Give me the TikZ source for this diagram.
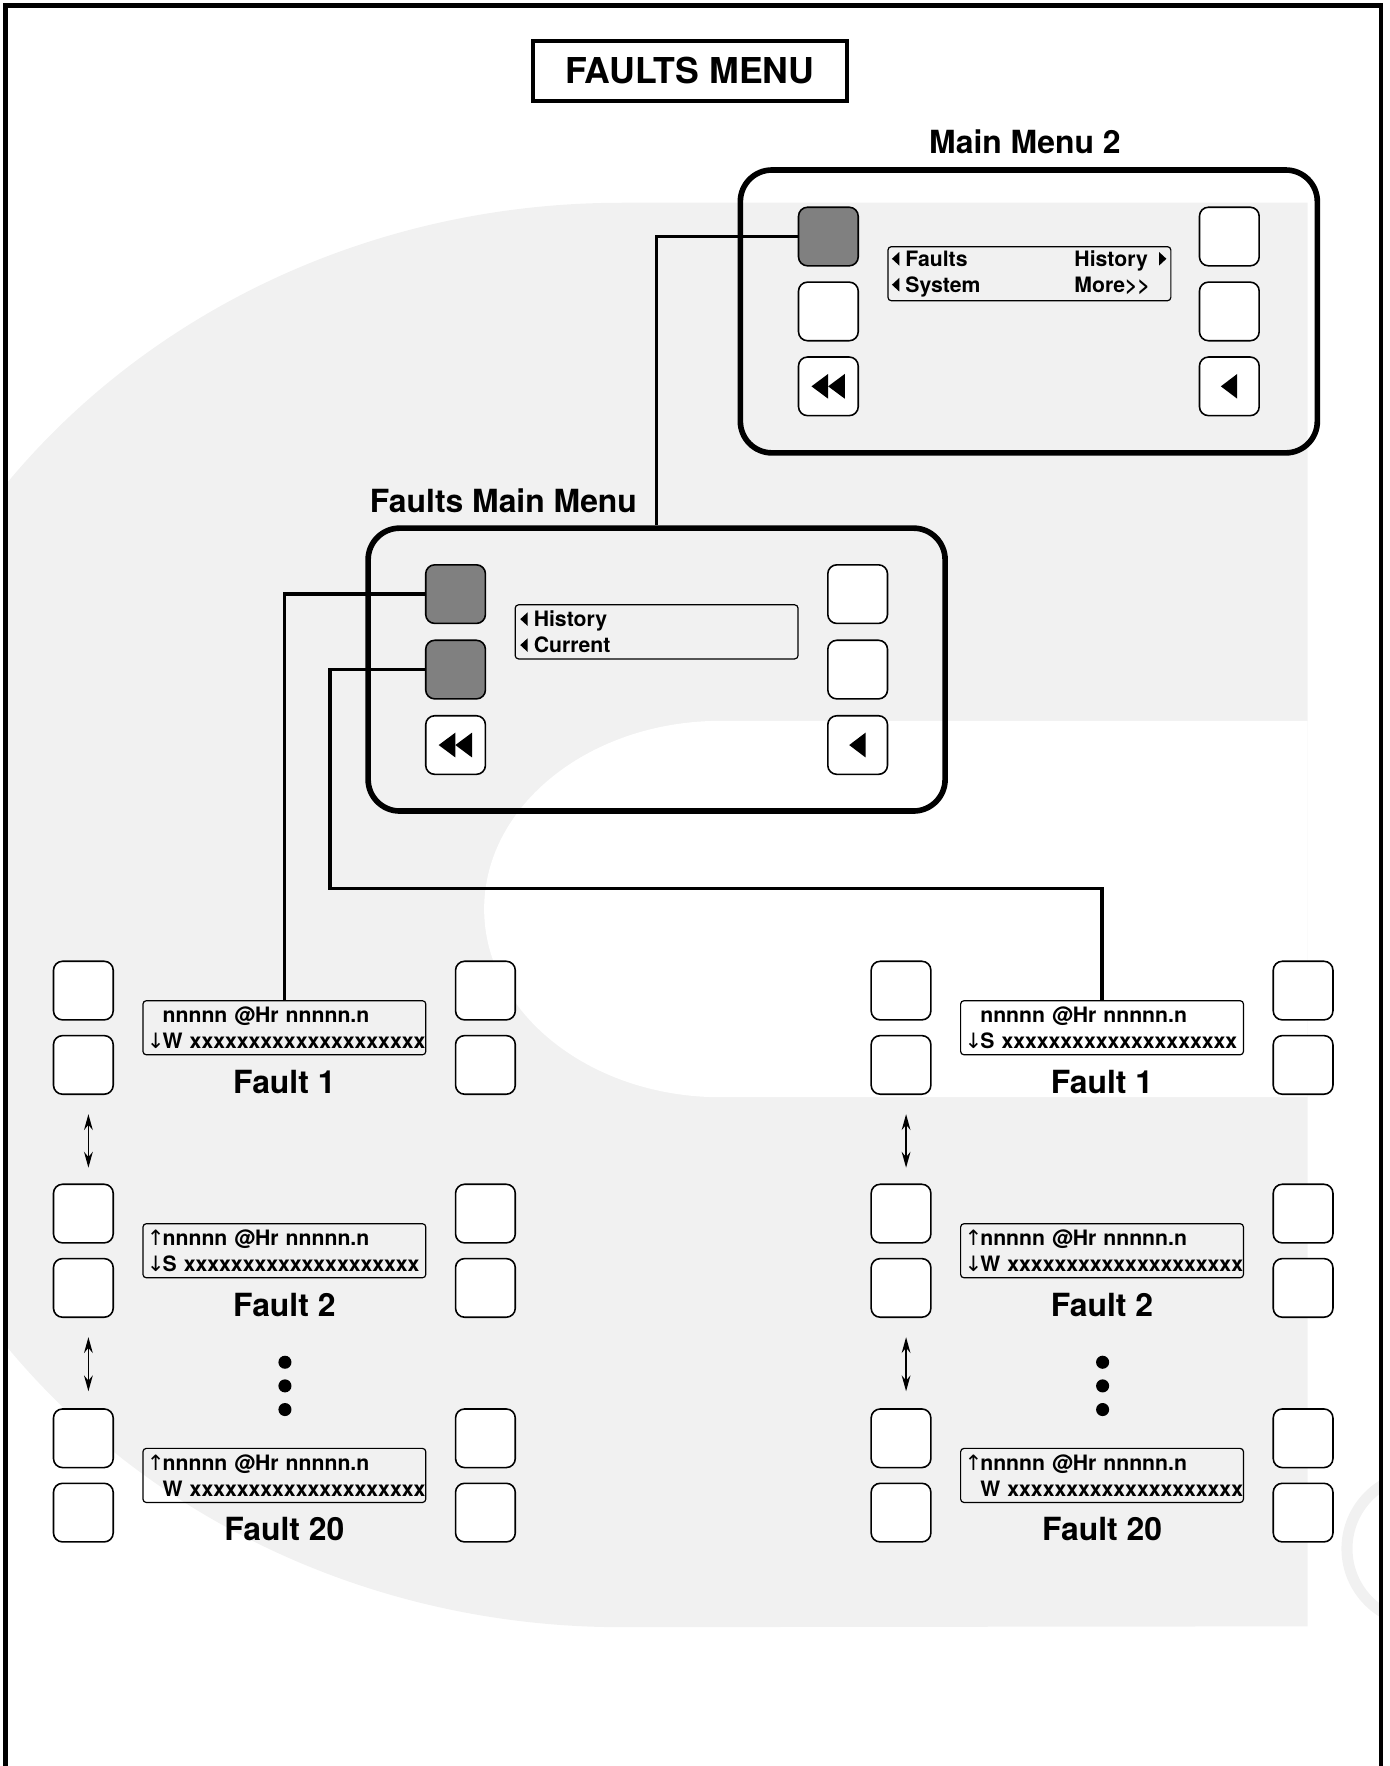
\documentclass[tikz,border=0pt]{standalone}
\usepackage{fontspec}
\setmainfont{TeX Gyre Heros}
\newfontfamily\arrowfont{DejaVu Sans}
\usetikzlibrary{arrows.meta}

\definecolor{wmgrey}{HTML}{F1F1F1}
\definecolor{keygrey}{HTML}{808080}

\newcommand\lcdfont{\fontsize{5.35}{6.55}\selectfont\bfseries}
\newcommand\arrslot[1]{\makebox[0.14cm][l]{\arrowfont\mdseries #1}}
\newcommand\xrow{xxxxxxxxxxxxxxxxxxxx}
\newcommand\ltri{\tikz[baseline={(0,-1.9pt)},sharp corners]\fill (0,0) -- (0.065cm,0.06cm) -- (0.065cm,-0.06cm) -- cycle;}
\newcommand\rtri{\tikz[baseline={(0,-1.9pt)},sharp corners]\fill (0.065cm,0) -- (0,0.06cm) -- (0,-0.06cm) -- cycle;}
% key symbols
\newcommand\rewindicon[1]{%
  \fill ([xshift=-0.15cm]#1.center) -- ++(0.148cm,0.11cm) -- ++(0,-0.22cm) -- cycle;
  \fill ([xshift=-0.002cm]#1.center) -- ++(0.148cm,0.11cm) -- ++(0,-0.22cm) -- cycle;}
\newcommand\backicon[1]{%
  \fill ([xshift=-0.075cm]#1.center) -- ++(0.145cm,0.11cm) -- ++(0,-0.22cm) -- cycle;}

\tikzset{
  key/.style={draw, rounded corners=0.08cm, fill=white, minimum width=0.53cm,
    minimum height=0.52cm, inner sep=0pt, line width=0.4pt},
  keyon/.style={key, fill=keygrey},
  lcd/.style={draw, rounded corners=0.03cm, line width=0.3pt, minimum width=2.51cm,
    minimum height=0.48cm, text width=2.44cm, inner xsep=0.035cm, inner ysep=0pt,
    align=left, font=\lcdfont},
  panel/.style={draw, rounded corners=0.28cm, line width=1.42pt,
    minimum width=5.12cm, minimum height=2.51cm},
  lbl/.style={font=\fontsize{8.05}{9.5}\selectfont\bfseries},
  wire/.style={line width=0.85pt},
  updown/.style={line width=0.45pt,
    {Stealth[length=4pt,width=2.2pt]}-{Stealth[length=4pt,width=2.2pt]}},
}

\begin{document}
\begin{tikzpicture}[x=0.01cm,y=-0.01cm]
  \useasboundingbox (0,0) rectangle (1234,1568);

  % watermark
  \begin{scope}
    \clip (5,5) rectangle (1226,1568);
    \fill[wmgrey] (1161,180) -- (552,180)
      arc[start angle=90, end angle=270, x radius=6.86cm, y radius=6.32cm]
      -- (1161,1444) -- cycle;
    \fill[white] (1161,640) -- (640,640)
      arc[start angle=90, end angle=270, x radius=2.1cm, y radius=1.67cm]
      -- (1161,974) -- cycle;
    \draw[wmgrey, line width=2.8pt] (1262,1375) circle[radius=0.66cm];
  \end{scope}

  \draw[line width=1.14pt] (5,1568) -- (5,5) -- (1226,5) -- (1226,1568);

  \node[draw, line width=1pt, minimum width=2.79cm, minimum height=0.54cm,
    font=\fontsize{9}{11}\selectfont\bfseries] (title) at (612.5,63) {FAULTS MENU};

  % Main Menu 2
  \node[lbl] (mm2lbl) at (910,126) {Main Menu 2};
  \node[panel] (mm2) at (913.5,276.5) {};
  \foreach \n/\dy/\ks in {1/-66.5/keyon, 2/0/key, 3/66.5/key} {
    \node[\ks] (mm2L\n) at ([shift={(-178,\dy)}]mm2.center) {};
    \node[key] (mm2R\n) at ([shift={(178,\dy)}]mm2.center) {};
  }
  \node[lcd] (mm2lcd) at ([shift={(0.5,-33.5)}]mm2.center)
    {\makebox[1.62cm][l]{\ltri\hspace{0.055cm}Faults}History\hspace{0.1cm}\rtri\\
     \makebox[1.62cm][l]{\ltri\hspace{0.055cm}System}More>\kern0pt>};
  \rewindicon{mm2L3}
  \backicon{mm2R3}

  % Faults Main Menu
  \node[lbl] (fmmlbl) at (447,445) {Faults Main Menu};
  \node[panel] (fmm) at (583,594.5) {};
  \foreach \n/\dy/\ks in {1/-67/keyon, 2/0/keyon, 3/67/key} {
    \node[\ks] (fmmL\n) at ([shift={(-178.5,\dy)}]fmm.center) {};
    \node[key] (fmmR\n) at ([shift={(178.5,\dy)}]fmm.center) {};
  }
  \node[lcd] (fmmlcd) at ([shift={(0,-33.5)}]fmm.center)
    {\hspace{0.01cm}\ltri\hspace{0.055cm}History\\ \hspace{0.01cm}\ltri\hspace{0.055cm}Current};
  \rewindicon{fmmL3}
  \backicon{fmmR3}

  % fault screens
  \node[lcd] (L1)  at (252.5,912.5) {\mbox{\arrslot{}nnnnn @Hr nnnnn.n}\\\mbox{\arrslot{↓}W \xrow}};
  \node[lcd] (L2)  at (252.5,1110.5) {\mbox{\arrslot{↑}nnnnn @Hr nnnnn.n}\\\mbox{\arrslot{↓}S \xrow}};
  \node[lcd] (L20) at (252.5,1310) {\mbox{\arrslot{↑}nnnnn @Hr nnnnn.n}\\\mbox{\arrslot{}W \xrow}};
  \node[lcd] (R1)  at (978.5,912.5) {\mbox{\arrslot{}nnnnn @Hr nnnnn.n}\\\mbox{\arrslot{↓}S \xrow}};
  \node[lcd] (R2)  at (978.5,1110.5) {\mbox{\arrslot{↑}nnnnn @Hr nnnnn.n}\\\mbox{\arrslot{↓}W \xrow}};
  \node[lcd] (R20) at (978.5,1310) {\mbox{\arrslot{↑}nnnnn @Hr nnnnn.n}\\\mbox{\arrslot{}W \xrow}};

  \foreach \s/\t in {L1/1, L2/2, L20/20, R1/1, R2/2, R20/20} {
    \node[key] (\s-la) at ([shift={(-178.5,-33)}]\s.center) {};
    \node[key] (\s-lb) at ([shift={(-178.5,33)}]\s.center) {};
    \node[key] (\s-ra) at ([shift={(178.5,-33)}]\s.center) {};
    \node[key] (\s-rb) at ([shift={(178.5,33)}]\s.center) {};
    \node[lbl] (\s-lbl) at ([shift={(0,48)}]\s.center) {Fault \t};
  }

  \foreach \c in {L,R} {
    \draw[updown] ([shift={(4.5,17)}]\c1-lb.south) -- ([shift={(4.5,-14)}]\c2-la.north);
    \draw[updown] ([shift={(4.5,17)}]\c2-lb.south) -- ([shift={(4.5,-15)}]\c20-la.north);
    \foreach \dy in {99,120,141}
      \fill ([shift={(0.5,\dy)}]\c2.center) circle[radius=0.058cm];
  }

  % connectors
  \coordinate (turn) at (293,789);
  \draw[wire] (mm2L1.west) -| (fmm.north);
  \draw[wire] (fmmL1.west) -| (L1.north);
  \draw[wire] (fmmL2.west) -| (turn) -| (R1.north);
\end{tikzpicture}
\end{document}
